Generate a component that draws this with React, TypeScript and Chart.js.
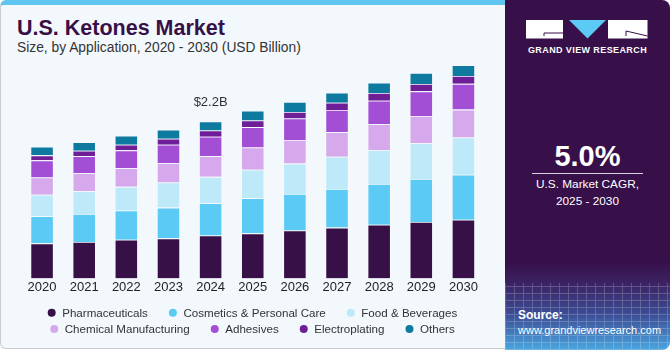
import React, { useEffect, useRef } from "react";
import { Chart, registerables } from "chart.js";

Chart.register(...registerables);

const FONT = "'Liberation Sans', Arial, Helvetica, sans-serif";

const years = ["2020", "2021", "2022", "2023", "2024", "2025", "2026", "2027", "2028", "2029", "2030"];

const pharmaceuticals = [0.49, 0.51, 0.54, 0.56, 0.6, 0.63, 0.67, 0.71, 0.75, 0.79, 0.82];
const cosmetics = [0.38, 0.39, 0.41, 0.43, 0.45, 0.49, 0.51, 0.54, 0.57, 0.6, 0.63];
const foodBeverages = [0.3, 0.32, 0.33, 0.35, 0.37, 0.4, 0.425, 0.45, 0.475, 0.5, 0.52];
const chemicalManufacturing = [0.24, 0.25, 0.26, 0.27, 0.29, 0.31, 0.33, 0.345, 0.36, 0.38, 0.39];
const adhesives = [0.24, 0.24, 0.25, 0.26, 0.27, 0.285, 0.3, 0.31, 0.33, 0.345, 0.36];
const electroplating = [0.07, 0.074, 0.08, 0.084, 0.088, 0.092, 0.092, 0.1, 0.108, 0.104, 0.11];
const others = [0.12, 0.12, 0.126, 0.126, 0.126, 0.136, 0.14, 0.14, 0.144, 0.154, 0.15];

const seriesLabels = [
  "Pharmaceuticals",
  "Cosmetics & Personal Care",
  "Food & Beverages",
  "Chemical Manufacturing",
  "Adhesives",
  "Electroplating",
  "Others",
];
const seriesColors = ["#371047", "#5bcaf5", "#bde9f9", "#d6a9ec", "#a24fd6", "#6e1f98", "#0e7aa0"];

const legendRows = [
  [0, 1, 2],
  [3, 4, 5, 6],
];

const totalLabels = [{ index: 4, text: "$2.2B" }];

const totalLabelPlugin = {
  id: "totalLabels",
  afterDatasetsDraw(chart: any) {
    const ctx = chart.ctx;
    const yScale = chart.scales.y;
    const xScale = chart.scales.x;
    ctx.save();
    ctx.font = `13px ${FONT}`;
    ctx.fillStyle = "#333333";
    ctx.textAlign = "center";
    ctx.textBaseline = "middle";
    totalLabels.forEach((t) => {
      let sum = 0;
      chart.data.datasets.forEach((ds: any) => (sum += ds.data[t.index]));
      const x = xScale.getPixelForValue(t.index);
      const y = yScale.getPixelForValue(sum) - 19;
      ctx.fillText(t.text, x, y);
    });
    ctx.restore();
  },
};

const legendPlugin = {
  id: "customLegend",
  afterDraw(chart: any) {
    const ctx = chart.ctx;
    const centerX = 252.5;
    const baseY = chart.chartArea.bottom + 34.4;
    const rowGap = 16.3;
    const textOffset = 10.5;
    const itemGap = 25;
    ctx.save();
    ctx.font = `11.6px ${FONT}`;
    ctx.textBaseline = "middle";
    ctx.textAlign = "left";
    legendRows.forEach((row, r) => {
      const widths = row.map((i) => ctx.measureText(seriesLabels[i]).width);
      let total = 4;
      widths.forEach((w, k) => {
        total += textOffset + w + (k < row.length - 1 ? itemGap : 0);
      });
      let x = centerX - total / 2 + 4;
      const y = baseY + r * rowGap;
      row.forEach((i, k) => {
        ctx.beginPath();
        ctx.fillStyle = seriesColors[i];
        ctx.arc(x, y, 4, 0, Math.PI * 2);
        ctx.fill();
        ctx.fillStyle = "#333333";
        ctx.fillText(seriesLabels[i], x + textOffset, y + 0.5);
        x += textOffset + widths[k] + itemGap;
      });
    });
    ctx.restore();
  },
};

function Logo() {
  return (
    <svg width="124" height="20" viewBox="0 0 124 20" style={{ position: "absolute", left: 21, top: 20 }}>
      <rect x="0" y="0" width="37" height="18.5" fill="#ffffff" />
      <path d="M18 13 L37 13 M18 13 L18 16" stroke="#371047" strokeWidth="1" fill="none" />
      <polygon points="43,0 80,0 61.5,18.5" fill="#5bcaf5" />
      <rect x="82" y="0" width="39.5" height="18.5" fill="#ffffff" />
      <path d="M100 11 L121.5 16" stroke="#371047" strokeWidth="1" fill="none" />
      <path d="M100 11 L100 16" stroke="#371047" strokeWidth="1" fill="none" />
    </svg>
  );
}

export default function App() {
  const ref = useRef<HTMLCanvasElement>(null);

  useEffect(() => {
    document.body.style.margin = "0";
    const series = [
      pharmaceuticals,
      cosmetics,
      foodBeverages,
      chemicalManufacturing,
      adhesives,
      electroplating,
      others,
    ];
    const chart = new Chart(ref.current as HTMLCanvasElement, {
      type: "bar",
      data: {
        labels: years,
        datasets: series.map((d, i) => ({
          label: seriesLabels[i],
          data: d,
          backgroundColor: seriesColors[i],
          borderColor: "rgba(255,255,255,0.45)",
          borderWidth: 0.8,
          categoryPercentage: 1,
          barPercentage: 0.55,
        })),
      },
      options: {
        responsive: false,
        animation: false,
        layout: { padding: { left: 21, right: 20.5, top: 49.5, bottom: 54 } },
        plugins: {
          legend: { display: false },
          tooltip: { enabled: false },
        },
        scales: {
          x: {
            stacked: true,
            grid: { display: false, drawTicks: false },
            border: { display: false },
            ticks: { padding: 1, color: "#222222", font: { family: FONT, size: 13 } },
          },
          y: { stacked: true, display: false, min: 0, max: 3.2 },
        },
      },
      plugins: [totalLabelPlugin, legendPlugin],
    } as any);
    return () => chart.destroy();
  }, []);

  return (
    <div style={{ position: "fixed", left: 0, top: 0, width: 670, height: 350, fontFamily: FONT, overflow: "hidden", background: "#ffffff" }}>
      <div
        style={{
          position: "absolute",
          left: 0,
          top: 0,
          width: 507,
          height: 349,
          boxSizing: "border-box",
          border: "1px solid #c9ccd0",
          borderTop: "5px solid #5ec6ef",
          borderRadius: "6px 0 0 6px",
          background: "#f3f8fc",
        }}
      />
      <div
        style={{
          position: "absolute",
          left: 17,
          top: 17.8,
          fontSize: 21.5,
          lineHeight: 1,
          fontWeight: 700,
          color: "#371047",
          whiteSpace: "nowrap",
        }}
      >
        U.S. Ketones Market
      </div>
      <div
        style={{
          position: "absolute",
          left: 17,
          top: 41,
          fontSize: 13.8,
          lineHeight: 1,
          color: "#333333",
          whiteSpace: "nowrap",
        }}
      >
        Size, by Application, 2020 - 2030 (USD Billion)
      </div>
      <canvas ref={ref} width={505} height={350} style={{ position: "absolute", left: 0, top: 0, width: 505, height: 350 }} />
      <div
        style={{
          position: "absolute",
          left: 505,
          top: 0,
          width: 165,
          height: 350,
          borderRadius: "0 8px 8px 0",
          overflow: "hidden",
          background:
            "linear-gradient(to bottom, #37104a 0px, #37104a 262px, #3c2262 283px, #3d4f96 315px, #4aa6e0 350px)",
        }}
      >
        <div
          style={{
            position: "absolute",
            left: 0,
            top: 283,
            width: 165,
            height: 67,
            opacity: 0.22,
            backgroundImage:
              "repeating-linear-gradient(90deg, rgba(255,255,255,0.9) 0px, rgba(255,255,255,0.9) 1px, transparent 1px, transparent 9px), repeating-linear-gradient(0deg, rgba(255,255,255,0.9) 0px, rgba(255,255,255,0.9) 1px, transparent 1px, transparent 7px)",
          }}
        />
        <Logo />
        <div
          style={{
            position: "absolute",
            left: 0,
            width: 165,
            top: 46,
            textAlign: "center",
            fontSize: 9,
            lineHeight: 1,
            fontWeight: 700,
            letterSpacing: 0.4,
            color: "#ffffff",
            whiteSpace: "nowrap",
          }}
        >
          GRAND VIEW RESEARCH
        </div>
        <div
          style={{
            position: "absolute",
            left: 0,
            width: 165,
            top: 142,
            textAlign: "center",
            fontSize: 29,
            lineHeight: 1,
            fontWeight: 700,
            color: "#ffffff",
          }}
        >
          5.0%
        </div>
        <div style={{ position: "absolute", left: 26.5, top: 173, width: 111, height: 1, background: "#d9cfe2" }} />
        <div
          style={{
            position: "absolute",
            left: 0,
            width: 165,
            top: 176,
            textAlign: "center",
            fontSize: 11.8,
            lineHeight: "17px",
            color: "#ffffff",
          }}
        >
          U.S. Market CAGR,
          <br />
          2025 - 2030
        </div>
        <div
          style={{
            position: "absolute",
            left: 13,
            top: 308,
            fontSize: 11,
            lineHeight: "15px",
            color: "#ffffff",
            whiteSpace: "nowrap",
          }}
        >
          <div style={{ fontWeight: 700, fontSize: 12 }}>Source:</div>
          <div>www.grandviewresearch.com</div>
        </div>
      </div>
    </div>
  );
}
